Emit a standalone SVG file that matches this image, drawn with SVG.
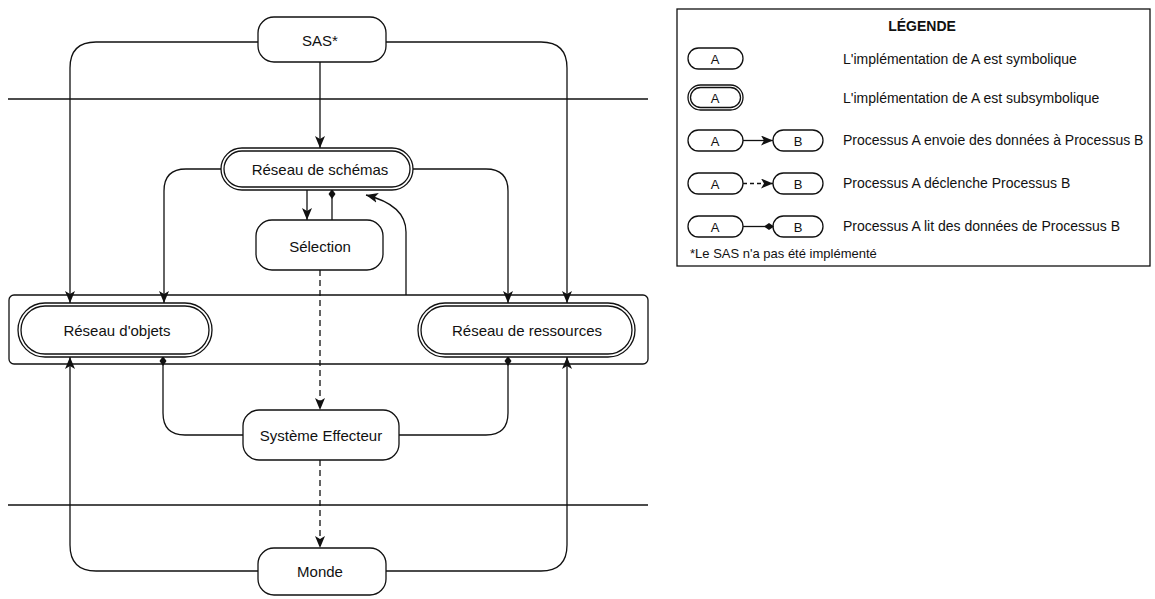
<svg xmlns="http://www.w3.org/2000/svg" width="1155" height="599" viewBox="0 0 1155 599">
<style>
.n{fill:#fff;stroke:#111;stroke-width:1.3}
.c{fill:none;stroke:#111;stroke-width:1.3}
.d{stroke-dasharray:6,4}
.t{font-family:"Liberation Sans",Arial,sans-serif;font-size:15px;fill:#111;text-anchor:middle;dominant-baseline:central}
.a{font-size:13px}
.l{font-family:"Liberation Sans",Arial,sans-serif;font-size:14px;fill:#111;dominant-baseline:central}
.sep{stroke:#111;stroke-width:1.3}
</style>
<defs>
<marker id="ar" viewBox="0 0 12 10" refX="12" refY="5" markerWidth="12" markerHeight="10" markerUnits="userSpaceOnUse" orient="auto">
<path d="M0,0 L12,5 L0,10 L3,5 z" fill="#111"/>
</marker>
<marker id="dm" viewBox="0 0 10 8" refX="9" refY="4" markerWidth="10" markerHeight="8" markerUnits="userSpaceOnUse" orient="auto">
<path d="M0,4 L5,0.5 L10,4 L5,7.5 z" fill="#111"/>
</marker>
</defs>
<line class="sep" x1="8" y1="99" x2="648" y2="99"/>
<line class="sep" x1="8" y1="505" x2="648" y2="505"/>
<g id="container"><rect class="n" x="9" y="295" width="639" height="69" rx="5" fill="none"/></g>
<g id="connectors">
<path class="c" d="M258,42 H96 Q70,42 70,68 V303" marker-end="url(#ar)"/>
<path class="c" d="M386,42 H541 Q567,42 567,68 V303" marker-end="url(#ar)"/>
<path class="c" d="M320,62 V148" marker-end="url(#ar)"/>
<path class="c" d="M221,169 H186 Q164,169 164,191 V303" marker-end="url(#ar)"/>
<path class="c" d="M413,169 H486 Q508,169 508,191 V303" marker-end="url(#ar)"/>
<path class="c" d="M307,190 V220" marker-end="url(#ar)"/>
<path class="c" d="M332,220 V190" marker-end="url(#dm)"/>
<path class="c" d="M406,295 V232 Q406,205 366,195" marker-end="url(#ar)"/>
<path class="c d" d="M320,270 V410" marker-end="url(#ar)"/>
<path class="c" d="M243,435 H185 Q163,435 163,413 V357" marker-end="url(#dm)"/>
<path class="c" d="M399,435 H486 Q508,435 508,413 V357" marker-end="url(#dm)"/>
<path class="c d" d="M320,460 V548" marker-end="url(#ar)"/>
<path class="c" d="M258,571 H96 Q70,571 70,545 V357" marker-end="url(#ar)"/>
<path class="c" d="M386,571 H541 Q567,571 567,545 V357" marker-end="url(#ar)"/>
</g>
<g id="sas"><rect class="n" x="258" y="17" width="128" height="45" rx="16"/><text class="t" x="320" y="40">SAS*</text></g>
<g id="schemas"><rect class="n" x="221" y="148" width="192" height="42" rx="21"/><rect class="n" x="224" y="151" width="186" height="36" rx="18"/><text class="t" x="320" y="169">Réseau de schémas</text></g>
<g id="selection"><rect class="n" x="256" y="220" width="127" height="50" rx="16"/><text class="t" x="320" y="246">Sélection</text></g>
<g id="objets"><rect class="n" x="18" y="303" width="194" height="54" rx="27"/><rect class="n" x="21" y="306" width="188" height="48" rx="24"/><text class="t" x="117" y="330">Réseau d'objets</text></g>
<g id="ressources"><rect class="n" x="418" y="303" width="217" height="54" rx="27"/><rect class="n" x="421" y="306" width="211" height="48" rx="24"/><text class="t" x="527" y="330">Réseau de ressources</text></g>
<g id="effecteur"><rect class="n" x="243" y="410" width="156" height="50" rx="16"/><text class="t" x="321" y="435">Système Effecteur</text></g>
<g id="monde"><rect class="n" x="258" y="548" width="128" height="47" rx="16"/><text class="t" x="320" y="571">Monde</text></g>
<g id="legende">
<rect class="n" x="677" y="9" width="473" height="257" fill="#fff"/>
<text class="t" x="922" y="26" style="font-weight:bold;font-size:14px">LÉGENDE</text>
<rect class="n" x="688" y="48" width="55" height="21" rx="10.5"/><text class="t a" x="715" y="59">A</text>
<text class="l" x="843" y="59">L'implémentation de A est symbolique</text>
<rect class="n" x="688" y="85" width="55" height="25" rx="12.5"/><rect class="n" x="690.5" y="87.5" width="50" height="20" rx="10"/><text class="t a" x="715" y="98">A</text>
<text class="l" x="843" y="98">L'implémentation de A est subsymbolique</text>
<rect class="n" x="688" y="130" width="55" height="21" rx="10.5"/><text class="t a" x="715" y="141">A</text>
<rect class="n" x="773" y="130" width="50" height="21" rx="10.5"/><text class="t a" x="798" y="141">B</text>
<path class="c" d="M743,140.5 H773" marker-end="url(#ar)"/>
<text class="l" x="843" y="140">Processus A envoie des données à Processus B</text>
<rect class="n" x="688" y="173" width="55" height="21" rx="10.5"/><text class="t a" x="715" y="184">A</text>
<rect class="n" x="773" y="173" width="50" height="21" rx="10.5"/><text class="t a" x="798" y="184">B</text>
<path class="c" d="M743,183.5 H773" stroke-dasharray="4,3" marker-end="url(#ar)"/>
<text class="l" x="843" y="183">Processus A déclenche Processus B</text>
<rect class="n" x="688" y="216" width="55" height="21" rx="10.5"/><text class="t a" x="715" y="227">A</text>
<rect class="n" x="773" y="216" width="50" height="21" rx="10.5"/><text class="t a" x="798" y="227">B</text>
<path class="c" d="M743,226.5 H773" marker-end="url(#dm)"/>
<text class="l" x="843" y="226">Processus A lit des données de Processus B</text>
<text class="l" x="690" y="253" style="font-size:13px">*Le SAS n'a pas été implémenté</text>
</g>
</svg>
